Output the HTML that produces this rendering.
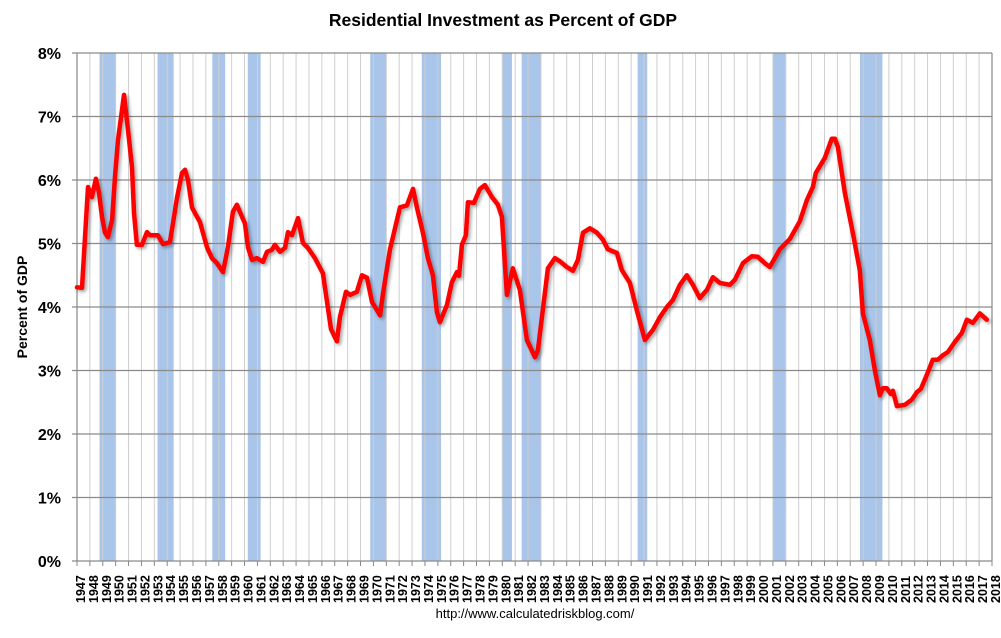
<!DOCTYPE html>
<html><head><meta charset="utf-8"><style>
body{margin:0;background:#fff;width:1001px;height:633px;overflow:hidden;font-family:"Liberation Sans",sans-serif}
</style></head><body>
<svg id="chart" width="1001" height="633" xmlns="http://www.w3.org/2000/svg">
<defs><filter id="sh" x="-5%" y="-5%" width="110%" height="110%"><feDropShadow dx="2" dy="2" stdDeviation="1.5" flood-color="#000" flood-opacity="0.35"/></filter></defs>
<text x="503" y="26" text-anchor="middle" font-size="17.5" font-weight="bold" fill="#000">Residential Investment as Percent of GDP</text>
<text transform="translate(27,307) rotate(-90)" text-anchor="middle" font-size="14" font-weight="bold">Percent of GDP</text>
<text x="535" y="618" text-anchor="middle" font-size="13" fill="#000">http://www.calculatedriskblog.com/</text>
<g id="rec"></g><g id="grid"></g><g id="axes"></g><g id="series"></g>
</svg>
<script>
const yTicks=[0,1,2,3,4,5,6,7,8];
const recStart=[1948.75,1953.25,1957.5,1960.25,1969.75,1973.75,1980.0,1981.5,1990.5,2001.0,2007.75];
const recEnd=[1950.0,1954.5,1958.5,1961.25,1971.0,1975.25,1980.75,1983.0,1991.25,2002.0,2009.5];
const years=[1947.0,1947.39,1947.85,1948.16,1948.47,1948.71,1948.94,1949.17,1949.40,1949.72,1949.95,1950.18,1950.65,1950.96,1951.27,1951.42,1951.65,1952.04,1952.43,1952.66,1953.28,1953.67,1954.21,1954.45,1954.76,1955.15,1955.38,1955.61,1955.92,1956.15,1956.54,1957.09,1957.47,1957.86,1958.33,1958.71,1959.10,1959.41,1959.80,1960.03,1960.27,1960.58,1960.96,1961.43,1961.74,1962.13,1962.36,1962.75,1963.14,1963.37,1963.68,1964.15,1964.53,1964.92,1965.46,1966.08,1966.71,1967.17,1967.40,1967.87,1968.18,1968.72,1969.11,1969.50,1969.89,1970.51,1970.74,1971.28,1972.06,1972.60,1973.07,1973.38,1973.84,1974.23,1974.62,1974.93,1975.16,1975.70,1976.09,1976.48,1976.64,1976.87,1977.18,1977.33,1977.80,1978.26,1978.65,1979.20,1979.66,1979.97,1980.36,1980.82,1981.37,1981.91,1982.53,1982.76,1983.54,1984.08,1984.47,1985.01,1985.48,1985.87,1986.26,1986.80,1987.34,1987.81,1988.19,1988.89,1989.28,1989.90,1990.44,1991.07,1991.69,1992.23,1992.77,1993.24,1993.78,1994.32,1994.79,1995.33,1995.88,1996.34,1996.88,1997.66,1998.05,1998.67,1999.37,1999.83,2000.37,2000.76,2001.54,2002.31,2003.09,2003.63,2004.10,2004.33,2005.03,2005.57,2005.81,2006.04,2006.58,2007.20,2007.74,2007.98,2008.52,2008.91,2009.30,2009.53,2009.84,2010.15,2010.31,2010.62,2011.24,2011.78,2012.17,2012.48,2012.94,2013.41,2013.80,2014.18,2014.57,2015.12,2015.66,2016.05,2016.51,2017.05,2017.60];
const values=[4.31,4.30,5.89,5.73,6.02,5.80,5.42,5.17,5.10,5.37,6.05,6.63,7.34,6.79,6.20,5.48,4.98,4.98,5.18,5.13,5.13,4.99,5.02,5.32,5.72,6.11,6.16,6.00,5.57,5.48,5.34,4.94,4.77,4.69,4.55,4.94,5.50,5.61,5.42,5.32,4.94,4.74,4.77,4.71,4.87,4.90,4.98,4.87,4.93,5.18,5.13,5.40,5.01,4.93,4.77,4.53,3.65,3.46,3.84,4.24,4.19,4.24,4.50,4.46,4.08,3.87,4.20,4.90,5.57,5.60,5.86,5.56,5.17,4.77,4.50,3.92,3.76,4.03,4.39,4.55,4.49,4.98,5.13,5.65,5.64,5.86,5.92,5.73,5.61,5.42,4.19,4.61,4.27,3.48,3.21,3.32,4.61,4.77,4.72,4.63,4.57,4.74,5.17,5.24,5.17,5.06,4.91,4.85,4.58,4.38,3.95,3.48,3.64,3.84,4.00,4.11,4.35,4.50,4.35,4.14,4.27,4.47,4.38,4.35,4.43,4.69,4.80,4.79,4.69,4.63,4.91,5.07,5.35,5.68,5.89,6.11,6.35,6.65,6.65,6.52,5.80,5.17,4.58,3.90,3.48,3.00,2.61,2.72,2.72,2.63,2.68,2.44,2.46,2.54,2.66,2.71,2.93,3.17,3.17,3.24,3.29,3.45,3.59,3.80,3.75,3.90,3.80];
const firstYear=1947,lastYear=2018;
const L=77,R=992,T=53,B=561;
const X=y=>L+(y-firstYear)*(R-L)/(lastYear-firstYear);
const Y=v=>B-(v/8)*(B-T);
const NS='http://www.w3.org/2000/svg';
function mk(tag,attrs,parent){const e=document.createElementNS(NS,tag);for(const k in attrs)e.setAttribute(k,attrs[k]);parent.appendChild(e);return e;}
const rec=document.getElementById('rec'),grid=document.getElementById('grid'),axes=document.getElementById('axes'),ser=document.getElementById('series');
for(let i=0;i<recStart.length;i++){
  const r=mk('rect',{x:X(recStart[i]),y:T,width:X(recEnd[i])-X(recStart[i]),height:B-T,fill:'#a9c5ea'},rec);
  
  
}
for(let yr=firstYear;yr<=lastYear;yr++){
  const x=X(yr);
  if(yr>firstYear&&yr<lastYear){const g=mk('line',{x1:x,x2:x,y1:T,y2:B,stroke:'#cfcfcf','stroke-width':1},grid);
  
  }
  mk('line',{x1:x,x2:x,y1:B,y2:B+5,stroke:'#888','stroke-width':1},axes);
  const t=mk('text',{transform:`translate(${x+8},${B+42}) rotate(-90)`,'font-size':12.5,'font-weight':'bold',fill:'#000'},axes);
  t.textContent=yr;
  
  
}
yTicks.forEach(v=>{
  const y=Y(v);
  const g=mk('line',{x1:L-5,x2:R,y1:y,y2:y,stroke:'#8a8a8a','stroke-width':1.2},grid);
  
  
  const t=mk('text',{x:61,y:y+6,'text-anchor':'end','font-size':16,'font-weight':'bold',fill:'#000'},axes);
  t.textContent=v+'%';
  
  
});
mk('line',{x1:L,x2:L,y1:T,y2:B,stroke:'#888','stroke-width':1.2},axes);
mk('line',{x1:R,x2:R,y1:T,y2:B,stroke:'#888','stroke-width':1.2},axes);
let d='';
years.forEach((yr,i)=>{d+=(i?'L':'M')+X(yr).toFixed(1)+','+Y(values[i]).toFixed(1);});
const p=mk('path',{d:d,fill:'none',stroke:'#ff0000','stroke-width':4.5,'stroke-linejoin':'round','stroke-linecap':'round',filter:'url(#sh)'},ser);


</script>
</body></html>
